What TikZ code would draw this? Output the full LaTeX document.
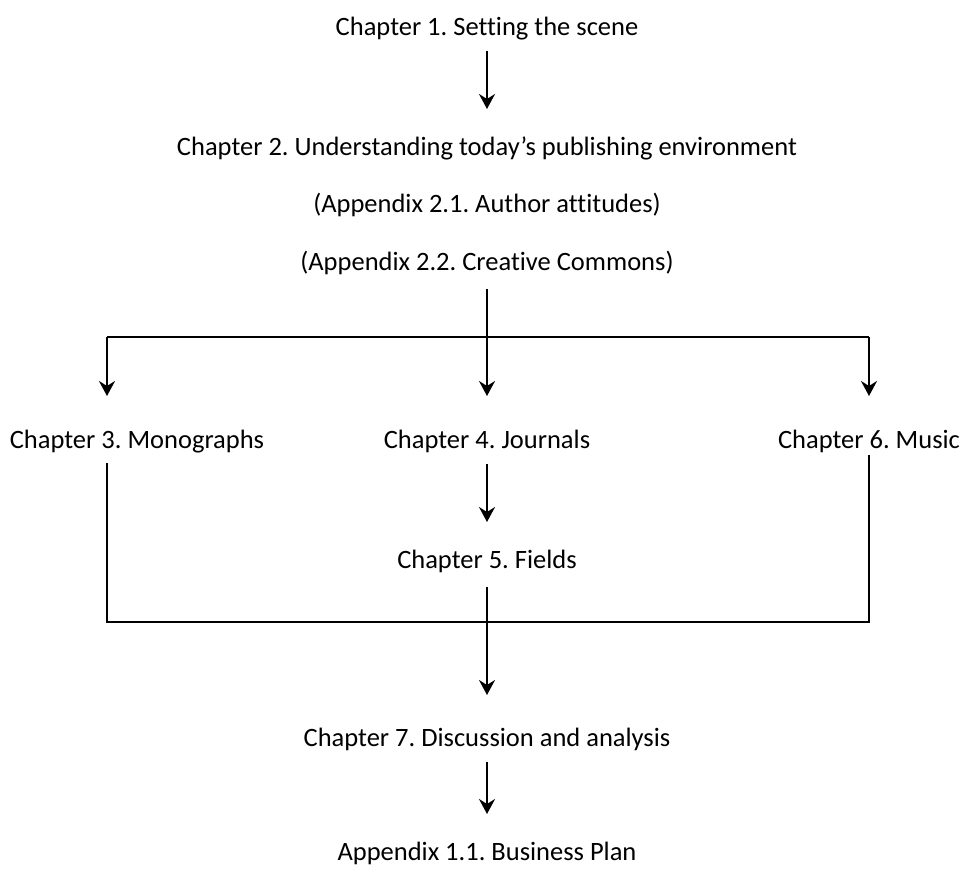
\documentclass[tikz,border=0pt]{standalone}
\usepackage{fontspec}
\setmainfont[Ligatures=NoCommon]{Carlito}
\frenchspacing
\usetikzlibrary{arrows.meta}

\begin{document}
\begin{tikzpicture}[x=1pt, y=-1pt,
  >={Stealth[length=15pt, width=16pt, inset=5pt]},
  line width=2pt,
  lbl/.style={font=\fontsize{26.5}{30}\selectfont, inner xsep=0pt,
    inner ysep=0pt, text height=18pt, text depth=6pt, anchor=base},
  flow/.style={->, shorten <=9pt, shorten >=27pt}]
\useasboundingbox (0,0) rectangle (963,868);
\node[lbl] (c1) at (487,35) {Chapter 1. Setting the scene};
\node[lbl] (c2) at (487,155) {Chapter 2. Understanding today’s publishing environment};
\node[lbl] (a21) at (487,212) {(Appendix 2.1. Author attitudes)};
\node[lbl] (a22) at (487,270) {(Appendix 2.2. Creative Commons)};
\node[lbl] (c3) at (137,448) {Chapter 3. Monographs};
\node[lbl] (c4) at (487,448) {Chapter 4. Journals};
\node[lbl] (c6) at (869,448) {Chapter 6. Music};
\node[lbl] (c5) at (487,568) {Chapter 5. Fields};
\node[lbl] (c7) at (487,746) {Chapter 7. Discussion and analysis};
\node[lbl] (a11) at (487,860) {Appendix 1.1. Business Plan};
% split and merge corners
\coordinate (sl) at (107,337);
\coordinate (sr) at (869,337);
\coordinate (ml) at (107,622);
\coordinate (mr) at (869,622);
\foreach \a/\b in {c1/c2, c4/c5, c7/a11}
  \draw[flow] (\a) -- (\b);
\draw[->, shorten <=12pt, shorten >=33pt] (a22) -- (c4);
\draw (sl) -- (sr);
\draw[->, shorten >=33pt] (sl) -- (sl |- c3.north);
\draw[->, shorten >=33pt] (sr) -- (sr |- c6.north);
\draw[shorten <=8pt] (sl |- c3.south) -- (ml) -- (mr) -- (sr |- c6.south);
\draw[->, shorten <=12pt, shorten >=32pt] (c5) -- (c7);
\end{tikzpicture}
\end{document}
